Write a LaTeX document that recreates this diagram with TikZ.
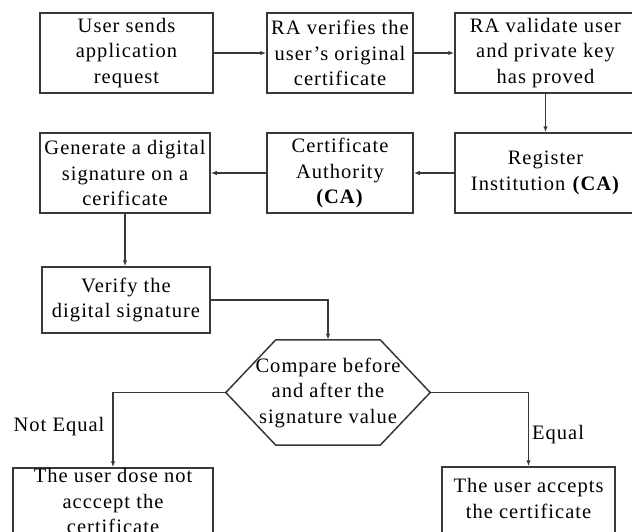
\documentclass[tikz,border=0pt]{standalone}
\usepackage{fontspec}
\setmainfont{Liberation Serif}[LetterSpace=5]
\usetikzlibrary{arrows.meta,calc}
\begin{document}
\begin{tikzpicture}[x=1pt,y=-1pt,
  lbl/.style={align=center, inner sep=0pt, font=\fontsize{20.5}{25.5}\selectfont},
  box/.style={lbl, draw=black!78, line width=1.5pt},
  conn/.style={draw=black!78, line width=1.5pt, -{Latex[length=6pt,width=4.5pt]}},
  outline/.style={draw=black!78, line width=1.5pt, line join=miter}
]
\useasboundingbox (0,0) rectangle (632,531);
% row 1
\node[box, minimum width=173pt, minimum height=80pt] (b1) at (126.5,53) {User sends\\application\\request};
\node[box, minimum width=146pt, minimum height=80pt] (b2) at (340,53) {RA verifies the\\user’s original\\certificate};
\node[box, minimum width=181pt, minimum height=80pt] (b3) at (545.5,53) {RA validate user\\and private key\\has proved};
% row 2
\node[box, minimum width=181pt, minimum height=80pt] (b4) at (545.5,173) {Register\\Institution \textbf{(CA)}};
\node[box, minimum width=146pt, minimum height=80pt] (b5) at (340,173) {Certificate\\Authority\\\textbf{(CA)}};
\node[box, minimum width=170pt, minimum height=80pt] (b6) at (125,173) {Generate a digital\\signature on a\\cerificate};
% verify
\node[box, minimum width=168pt, minimum height=66pt] (b7) at (126,300) {Verify the\\digital signature};
% decision
\node[lbl, minimum width=204pt, minimum height=105pt] (hex) at (328,392.5) {Compare before\\and after the\\signature value};
\draw[outline] ($(hex.north west)+(50,0)$) -- ($(hex.north east)+(-50,0)$) -- (hex.east)
  -- ($(hex.south east)+(-50,0)$) -- ($(hex.south west)+(50,0)$) -- (hex.west) -- cycle;
% outcomes
\node[draw=black!78, line width=1.5pt, minimum width=200pt, minimum height=90pt, inner sep=0pt] (b8) at (113,513) {};
\node[lbl] (b8t) at (113,501) {The user dose not\\acccept the\\certificate};
\node[draw=black!78, line width=1.5pt, minimum width=173pt, minimum height=80pt, inner sep=0pt] (b9) at (528.5,507) {};
\node[lbl] (b9t) at (528.5,498.5) {The user accepts\\the certificate};
% labels
\node[lbl] (ne) at (59,427) {Not Equal};
\node[lbl] (eq) at (558,435) {Equal};
% connectors
\draw[conn] (b1) -- (b2);
\draw[conn] (b2) -- (b3);
\draw[conn] (b3) -- (b4);
\draw[conn] (b4) -- (b5);
\draw[conn] (b5) -- (b6);
\draw[conn] (b6.south) -- (b6.south |- b7.north);
\draw[conn] (b7.east) -| (hex.north);
\draw[conn] (hex.west) -| (b8.north);
\draw[conn] (hex.east) -| (b9.north);
\end{tikzpicture}
\end{document}
